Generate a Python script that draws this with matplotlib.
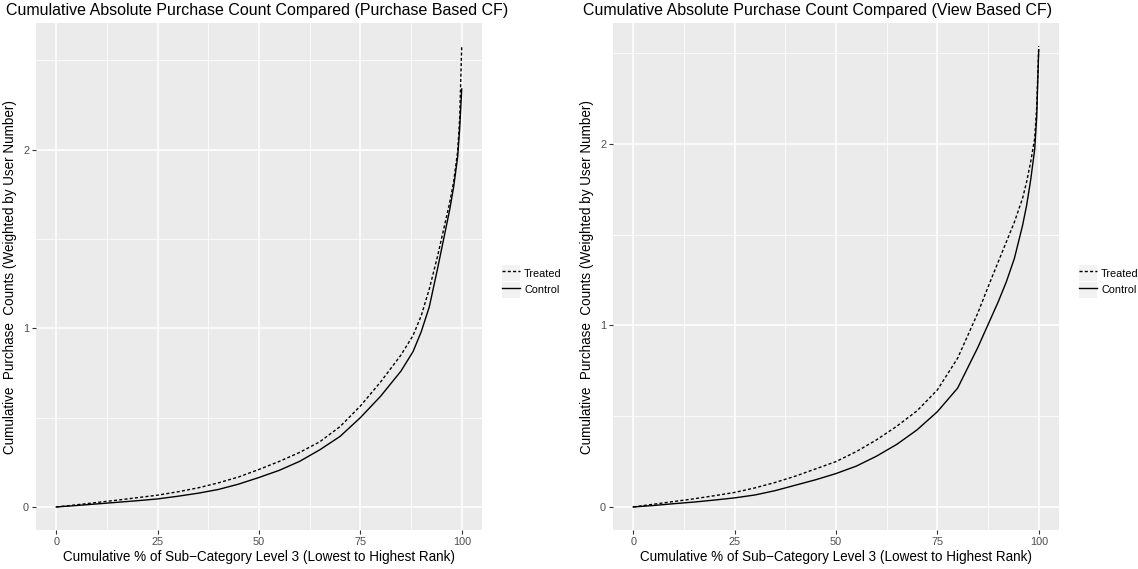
import numpy as np
import matplotlib.pyplot as plt
from matplotlib.patches import Patch
from matplotlib.lines import Line2D
from matplotlib.ticker import MultipleLocator

plt.rcParams['font.family'] = ['Liberation Sans', 'DejaVu Sans']

# --------- data ---------
# x = cumulative % of sub-category level 3 (lowest to highest rank)
pct = [0, 5, 10, 15, 20, 25, 30, 35, 40, 45, 50, 55, 60, 65, 70, 75,
       80, 85, 88, 90, 92, 94, 96, 97, 98, 99, 99.5, 100]

# purchase based CF
purchase_treated = [0, 0.012, 0.025, 0.038, 0.052, 0.066, 0.085, 0.107, 0.135, 0.168,
                    0.21, 0.255, 0.305, 0.365, 0.45, 0.565, 0.70, 0.85, 0.96, 1.07,
                    1.22, 1.40, 1.60, 1.70, 1.82, 1.99, 2.18, 2.58]
purchase_control = [0, 0.008, 0.017, 0.026, 0.035, 0.045, 0.06, 0.077, 0.098, 0.128,
                    0.165, 0.205, 0.255, 0.32, 0.395, 0.50, 0.62, 0.76, 0.87, 0.98,
                    1.12, 1.33, 1.55, 1.66, 1.79, 1.96, 2.12, 2.34]

# view based CF
view_treated = [0, 0.015, 0.03, 0.045, 0.062, 0.08, 0.105, 0.135, 0.17, 0.21,
                0.25, 0.305, 0.37, 0.445, 0.53, 0.645, 0.82, 1.07, 1.24, 1.35,
                1.46, 1.57, 1.70, 1.79, 1.90, 2.03, 2.2, 2.54]
view_control = [0, 0.008, 0.018, 0.027, 0.038, 0.05, 0.066, 0.09, 0.12, 0.15,
                 0.184, 0.225, 0.28, 0.345, 0.425, 0.525, 0.655, 0.88, 1.03, 1.13,
                 1.24, 1.37, 1.55, 1.66, 1.80, 1.97, 2.15, 2.52]

titles = ["Cumulative Absolute Purchase Count Compared (Purchase Based CF)",
          "Cumulative Absolute Purchase Count Compared (View Based CF)"]
xlabel = "Cumulative % of Sub\u2212Category Level 3 (Lowest to Highest Rank)"
ylabel = "Cumulative  Purchase  Counts (Weighted by User Number)"
series_names = ["Treated", "Control"]

# --------- ggplot-ish look ---------
PANEL = "#EBEBEB"
KEY_BG = "#F2F2F2"
TICK_COL = "#4D4D4D"
dotted = (0, (2.2, 1.6))

fig = plt.figure(figsize=(11.38, 5.69), dpi=100)
W, H = 1138, 569

panels = [
    (36, purchase_treated, purchase_control, titles[0]),
    (613, view_treated, view_control, titles[1]),
]

for x0, treated, control, title in panels:
    ax = fig.add_axes([x0 / W, (H - 530) / H, 446 / W, 507 / H])
    ax.set_facecolor(PANEL)
    for s in ax.spines.values():
        s.set_visible(False)

    ax.plot(pct, treated, color="black", lw=1.0, linestyle=dotted)
    ax.plot(pct, control, color="black", lw=1.0)

    ymax = max(max(treated), max(control))
    ax.set_xlim(-5, 105)
    ax.set_ylim(-0.05 * ymax, 1.05 * ymax)

    ax.xaxis.set_major_locator(MultipleLocator(25))
    ax.xaxis.set_minor_locator(MultipleLocator(12.5))
    ax.yaxis.set_major_locator(MultipleLocator(1))
    ax.yaxis.set_minor_locator(MultipleLocator(0.5))
    ax.grid(which="major", color="white", lw=1.1)
    ax.grid(which="minor", color="white", lw=0.55)
    ax.set_axisbelow(True)
    ax.tick_params(which="major", length=3, width=0.8, color="#333333",
                   labelsize=7.8, labelcolor=TICK_COL, pad=2)
    ax.tick_params(which="minor", length=0)

    ax.set_xlabel(xlabel, fontsize=9.75, labelpad=2)
    ax.set_ylabel(ylabel, fontsize=9.75, labelpad=4)
    fig.text((x0 - 30) / W, 1 - 15 / H, title, fontsize=11.5, ha="left", va="baseline")

    handles = [
        (Patch(facecolor=KEY_BG, edgecolor="none"),
         Line2D([], [], color="black", lw=1.0, linestyle=dotted)),
        (Patch(facecolor=KEY_BG, edgecolor="none"),
         Line2D([], [], color="black", lw=1.0)),
    ]
    ax.legend(handles, series_names, loc="center left", bbox_to_anchor=(1.035, 0.49),
              frameon=False, fontsize=7.8, handlelength=1.7, handleheight=1.85,
              handletextpad=0.35, labelspacing=0.1, borderaxespad=0)

fig.savefig("out.png", dpi=100)
